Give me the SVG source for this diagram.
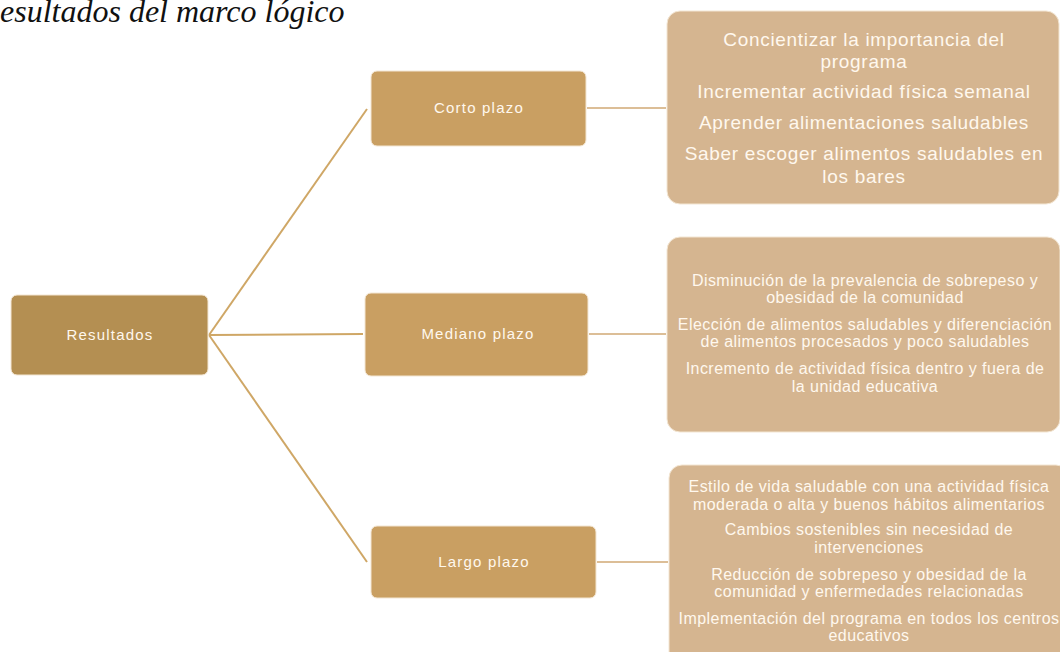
<svg xmlns="http://www.w3.org/2000/svg" width="1060" height="652" viewBox="0 0 1060 652">
<style>
.title{font-family:"Liberation Serif","Times New Roman",serif;font-style:italic;font-size:32px;fill:#111}
.root{fill:#B48F52;stroke:#F3E6D3;stroke-width:1}
.mid{fill:#C99F62;stroke:#F3E6D3;stroke-width:1}
.detail{fill:#D5B590;stroke:#F3E6D3;stroke-width:1}
.lbl{font-family:"Liberation Sans",Arial,sans-serif;font-size:15px;letter-spacing:1.2px;fill:#FFF8EE;text-anchor:middle}
.big{font-family:"Liberation Sans",Arial,sans-serif;font-size:19px;letter-spacing:0.7px;fill:#FFF8EE;text-anchor:middle}
.sm{font-family:"Liberation Sans",Arial,sans-serif;font-size:16px;letter-spacing:0.45px;fill:#FFF8EE;text-anchor:middle}
.cl{stroke:#CFA766;stroke-width:2;fill:none}
.cr{stroke:#DCBE97;stroke-width:2;fill:none}
</style>
<rect width="1060" height="652" fill="#FFFFFF"/>
<text class="title" x="0" y="22">esultados del marco lógico</text>
<g id="connectors">
<line class="cl" x1="209" y1="335" x2="367" y2="109"/>
<line class="cl" x1="209" y1="335" x2="363" y2="334"/>
<line class="cl" x1="209" y1="335" x2="367" y2="562"/>
<line class="cr" x1="587" y1="108" x2="666" y2="108"/>
<line class="cr" x1="589" y1="334" x2="666" y2="334"/>
<line class="cr" x1="597" y1="562" x2="668" y2="562"/>
</g>
<g id="node-resultados">
<rect class="root" x="11" y="295" width="197" height="80" rx="6"/>
<text class="lbl" x="110" y="340">Resultados</text>
</g>
<g id="node-corto">
<rect class="mid" x="371" y="71" width="215" height="75" rx="6"/>
<text class="lbl" x="479" y="113">Corto plazo</text>
</g>
<g id="node-mediano">
<rect class="mid" x="365" y="293" width="223" height="83" rx="6"/>
<text class="lbl" x="478" y="339">Mediano plazo</text>
</g>
<g id="node-largo">
<rect class="mid" x="371" y="526" width="225" height="72" rx="6"/>
<text class="lbl" x="484" y="567">Largo plazo</text>
</g>
<g id="detail-corto">
<rect class="detail" x="667" y="11" width="392" height="193" rx="13"/>
<text class="big" x="864" y="46">Concientizar la importancia del</text>
<text class="big" x="864" y="68">programa</text>
<text class="big" x="864" y="98">Incrementar actividad física semanal</text>
<text class="big" x="864" y="129">Aprender alimentaciones saludables</text>
<text class="big" x="864" y="160">Saber escoger alimentos saludables en</text>
<text class="big" x="864" y="183">los bares</text>
</g>
<g id="detail-mediano">
<rect class="detail" x="667" y="237" width="393" height="195" rx="13"/>
<text class="sm" x="865" y="286">Disminución de la prevalencia de sobrepeso y</text>
<text class="sm" x="865" y="303">obesidad de la comunidad</text>
<text class="sm" x="865" y="330">Elección de alimentos saludables y diferenciación</text>
<text class="sm" x="865" y="347">de alimentos procesados y poco saludables</text>
<text class="sm" x="865" y="374">Incremento de actividad física dentro y fuera de</text>
<text class="sm" x="865" y="392">la unidad educativa</text>
</g>
<g id="detail-largo">
<rect class="detail" x="669" y="465" width="400" height="200" rx="13"/>
<text class="sm" x="869" y="492">Estilo de vida saludable con una actividad física</text>
<text class="sm" x="869" y="510">moderada o alta y buenos hábitos alimentarios</text>
<text class="sm" x="869" y="535">Cambios sostenibles sin necesidad de</text>
<text class="sm" x="869" y="553">intervenciones</text>
<text class="sm" x="869" y="580">Reducción de sobrepeso y obesidad de la</text>
<text class="sm" x="869" y="597">comunidad y enfermedades relacionadas</text>
<text class="sm" x="869" y="624">Implementación del programa en todos los centros</text>
<text class="sm" x="869" y="641">educativos</text>
</g>
</svg>
